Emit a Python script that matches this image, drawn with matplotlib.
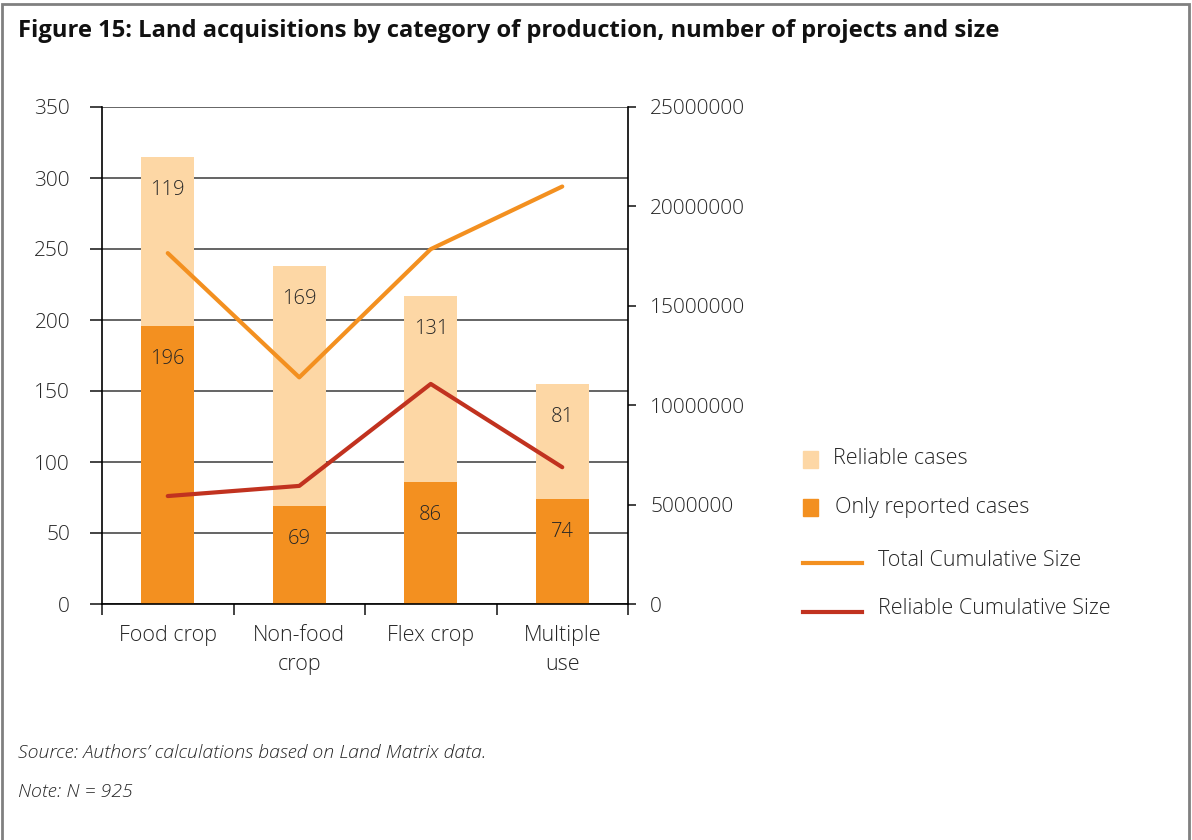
import matplotlib.pyplot as plt
from matplotlib.patches import Rectangle
from matplotlib.lines import Line2D
import numpy as np

plt.rcParams['font.family'] = ['Open Sans', 'DejaVu Sans']
plt.rcParams['font.weight'] = 300

# data
categories = ['Food crop', 'Non-food\ncrop', 'Flex crop', 'Multiple\nuse']
only_reported = [196, 69, 86, 74]
reliable = [119, 169, 131, 81]
total_size = [17650000, 11400000, 17850000, 21000000]
reliable_size = [5430000, 5940000, 11070000, 6880000]

c_reported = '#F39020'
c_reliable = '#FDD7A5'
c_total = '#F39020'
c_rel_line = '#C1321F'
txt = '#262626'

fig = plt.figure(figsize=(11.92, 8.4), dpi=100)
ax = fig.add_axes([102/1192, 1 - 604/840, 526/1192, 497/840])
ax2 = ax.twinx()

x = np.arange(len(categories))
w = 0.405

ax.set_axisbelow(True)
ax.yaxis.grid(True, color='#4a4a4a', linewidth=1.2)
ax.bar(x, only_reported, w, color=c_reported, zorder=2)
ax.bar(x, reliable, w, bottom=only_reported, color=c_reliable, zorder=2)

# value labels near the top of each segment
for i in range(len(categories)):
    ax.annotate(str(only_reported[i]), (x[i], only_reported[i]), xytext=(0, -24),
                textcoords='offset points', ha='center', va='center', fontsize=14.5, color=txt)
    ax.annotate(str(reliable[i]), (x[i], only_reported[i] + reliable[i]), xytext=(0, -24),
                textcoords='offset points', ha='center', va='center', fontsize=14.5, color=txt)

ax.set_ylim(0, 350)
ax.set_yticks(range(0, 351, 50))
ax.set_xlim(-0.5, 3.5)
ax.set_xticks(x)
ax.set_xticklabels(categories, linespacing=1.5)
ax.set_xticks(np.arange(-0.5, 3.6, 1), minor=True)
ax.tick_params(axis='x', which='major', length=0, pad=15, labelsize=15.5, labelcolor=txt)
ax.tick_params(axis='x', which='minor', length=8, width=1.2, color='#222222')
ax.tick_params(axis='y', length=9, width=1.2, color='#222222', pad=14, labelsize=15, labelcolor=txt)
for s in ['top', 'right']:
    ax.spines[s].set_visible(False)
ax.spines['left'].set_linewidth(1.2)
ax.spines['bottom'].set_linewidth(1.2)

# cumulative size lines on the right axis
ax2.plot(x, total_size, color=c_total, linewidth=3, solid_capstyle='round', solid_joinstyle='round', zorder=3)
ax2.plot(x, reliable_size, color=c_rel_line, linewidth=3, solid_capstyle='round', solid_joinstyle='round', zorder=3)
ax2.set_ylim(0, 25000000)
ax2.set_yticks(range(0, 25000001, 5000000))
ax2.set_yticklabels([str(v) for v in range(0, 25000001, 5000000)])
ax2.tick_params(axis='y', length=6, width=1.2, color='#222222', pad=10, labelsize=15, labelcolor=txt)
for s in ['top', 'left', 'bottom']:
    ax2.spines[s].set_visible(False)
ax2.spines['right'].set_linewidth(1.2)

# legend
fig.patches.append(Rectangle((803/1192, 1 - 468/840), 15/1192, 17/840, transform=fig.transFigure,
                             color=c_reliable))
fig.patches.append(Rectangle((803/1192, 1 - 516/840), 15/1192, 17/840, transform=fig.transFigure,
                             color=c_reported))
fig.lines.append(Line2D([803/1192, 862/1192], [1 - 563/840] * 2, transform=fig.transFigure,
                        color=c_total, linewidth=3))
fig.lines.append(Line2D([803/1192, 862/1192], [1 - 612/840] * 2, transform=fig.transFigure,
                        color=c_rel_line, linewidth=3))
fig.text(833/1192, 1 - 459/840, 'Reliable cases', fontsize=15.5, color=txt, va='center')
fig.text(835/1192, 1 - 508/840, 'Only reported cases', fontsize=15.5, color=txt, va='center')
fig.text(878/1192, 1 - 561/840, 'Total Cumulative Size', fontsize=15.5, color=txt, va='center')
fig.text(878/1192, 1 - 609/840, 'Reliable Cumulative Size', fontsize=15.5, color=txt, va='center')

# title, notes and frame
fig.text(18/1192, 1 - 31/840, 'Figure 15: Land acquisitions by category of production, number of projects and size',
         fontsize=17.1, fontweight='bold', color='#111111', va='center')
fig.text(18/1192, 1 - 753/840, 'Source: Authors\u2019 calculations based on Land Matrix data.',
         fontsize=14, style='italic', color=txt, va='center')
fig.text(18/1192, 1 - 792/840, 'Note: N = 925', fontsize=14, style='italic', color=txt, va='center')
fig.patches.append(Rectangle((2/1192, -0.05), 1187/1192, 1.05 - 4/840, transform=fig.transFigure,
                             fill=False, edgecolor='#808080', linewidth=2))

fig.savefig('out.png', dpi=100)
